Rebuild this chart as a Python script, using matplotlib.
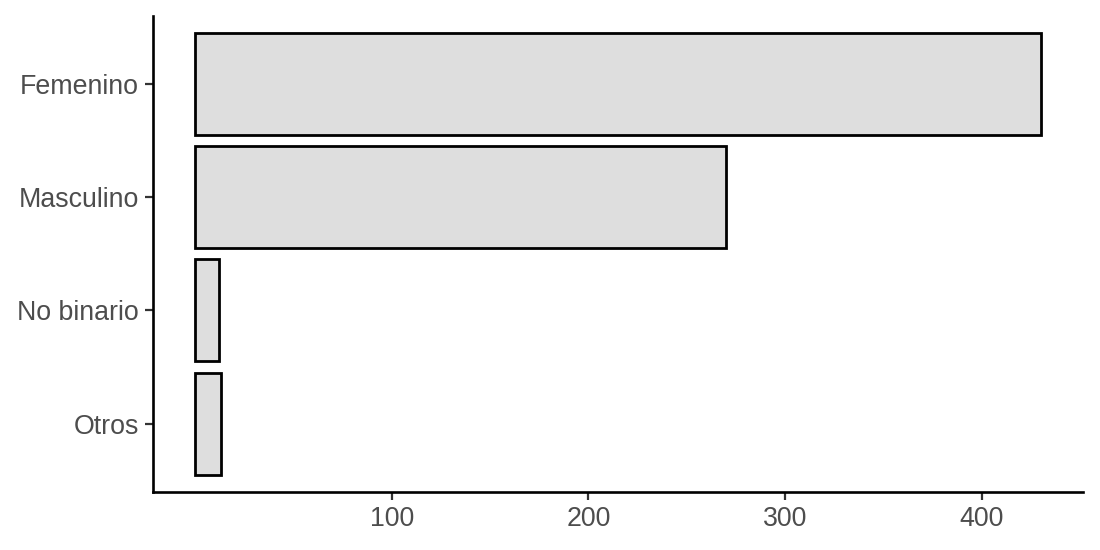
import matplotlib.pyplot as plt

# gender counts, top to bottom
categories = ["Femenino", "Masculino", "No binario", "Otros"]
counts = [430, 270, 12, 13]
x_ticks = [100, 200, 300, 400]

plt.rcParams['font.family'] = ['Liberation Sans', 'DejaVu Sans']

fig = plt.figure(figsize=(11, 5.5), dpi=100)
ax = fig.add_axes([0.139, 0.106, 0.8455, 0.865])

ypos = list(range(len(categories)))[::-1]
ax.barh(ypos, counts, height=0.9, color="#dedede", edgecolor="black", linewidth=2)

vmax = max(counts)
ax.set_xlim(-0.05 * vmax, vmax * 1.05)
ax.set_ylim(-0.6, len(categories) - 1 + 0.6)
ax.set_xticks(x_ticks)
ax.set_yticks(ypos)
ax.set_yticklabels(categories)

for side in ["top", "right"]:
    ax.spines[side].set_visible(False)
for side in ["left", "bottom"]:
    ax.spines[side].set_linewidth(1.9)
    ax.spines[side].set_color("black")

ax.tick_params(axis="both", length=5.5, width=1.6, color="#333333",
               labelsize=19.3, labelcolor="#4d4d4d", pad=4.5)

fig.savefig("out.png", dpi=100)
